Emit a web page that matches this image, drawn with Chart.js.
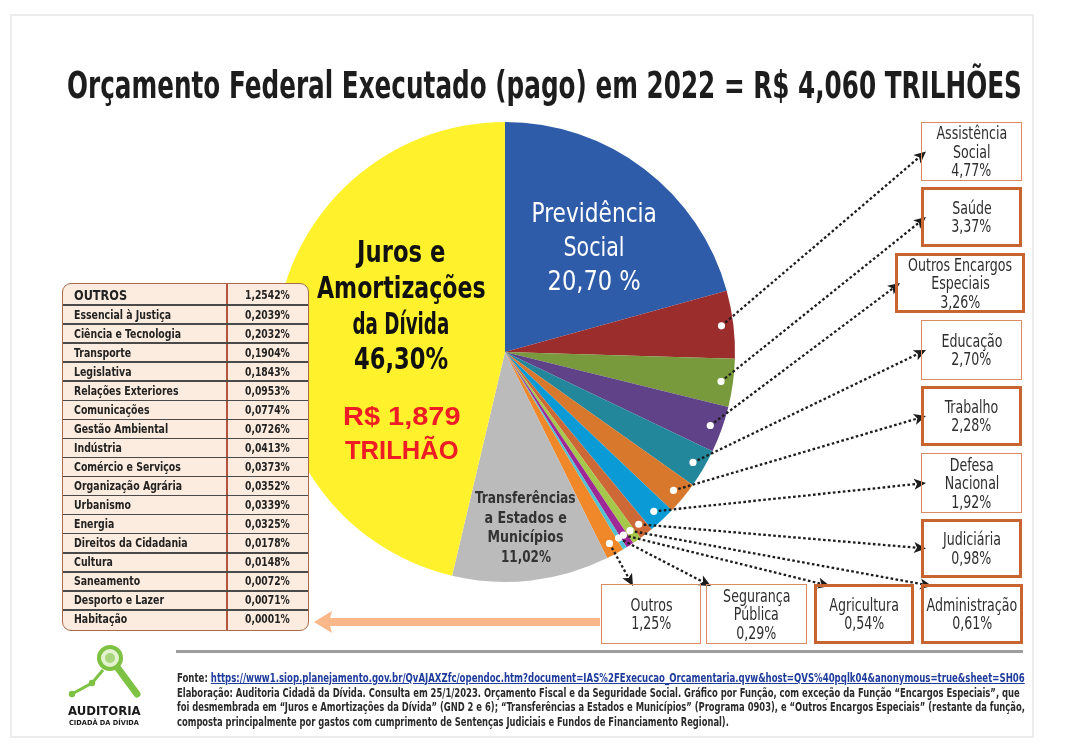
<!DOCTYPE html>
<html><head><meta charset="utf-8">
<script src="https://cdn.jsdelivr.net/npm/chart.js@4.4.1/dist/chart.umd.min.js"></script>
<style>
html,body{margin:0;padding:0;background:#fff;}
body{width:1086px;height:748px;position:relative;overflow:hidden;font-family:"Liberation Sans Narrow","DejaVu Sans Condensed","Liberation Sans",Arial,sans-serif;color:#2b2b2b;}
#chart{position:absolute;left:0;top:0;}
.t{position:absolute;white-space:nowrap;line-height:1.2;}
.box{position:absolute;box-sizing:border-box;background:transparent;}
#ov{position:absolute;left:0;top:0;width:1086px;height:748px;}
a{color:#1f3c9c;text-decoration:underline;}
</style></head><body>
<div style="position:absolute;left:10px;top:14px;width:1024px;height:724px;border:2px solid #ececec;box-sizing:border-box"></div>
<canvas id="chart" width="1086" height="748"></canvas>
<div id="ov"></div>
<script>
// ---------------- DATA ----------------
const categories = ['Previdência Social','Assistência Social','Saúde','Outros Encargos Especiais','Educação','Trabalho','Defesa Nacional','Judiciária','Administração','Agricultura','Segurança Pública','Outros','Transferências a Estados e Municípios','Juros e Amortizações da Dívida'];
const shares = [20.70, 4.77, 3.37, 3.26, 2.70, 2.28, 1.92, 0.98, 0.61, 0.54, 0.29, 1.25, 11.02, 46.30];
const sliceColors = ['#2F5CA8','#9B2D2D','#789A3C','#5F4287','#23879B','#D7782D','#0A9BD7','#CD6937','#A5C84B','#A02896','#50C3D2','#F08728','#BBBBBB','#FFF22D'];
const boxLabelLines = [null,['Assistência','Social'],['Saúde'],['Outros Encargos','Especiais'],['Educação'],['Trabalho'],['Defesa','Nacional'],['Judiciária'],['Administração'],['Agricultura'],['Segurança','Pública'],['Outros'],null,null];
const tableLabels = ['OUTROS','Essencial à Justiça','Ciência e Tecnologia','Transporte','Legislativa','Relações Exteriores','Comunicações','Gestão Ambiental','Indústria','Comércio e Serviços','Organização Agrária','Urbanismo','Energia','Direitos da Cidadania','Cultura','Saneamento','Desporto e Lazer','Habitação'];
const tableValues = [1.2542, 0.2039, 0.2032, 0.1904, 0.1843, 0.0953, 0.0774, 0.0726, 0.0413, 0.0373, 0.0352, 0.0339, 0.0325, 0.0178, 0.0148, 0.0072, 0.0071, 0.0001];
const titleText = 'Orçamento Federal Executado (pago) em 2022 = R$ 4,060 TRILHÕES';

// ---------------- LAYOUT ----------------
const boxLayout = {
  1:{x:921,y:122,w:101,h:59,thick:false},
  2:{x:921,y:187,w:101,h:60,thick:true},
  3:{x:895,y:253,w:130,h:60,thick:true},
  4:{x:921,y:320,w:101,h:60,thick:false},
  5:{x:921,y:386,w:101,h:60,thick:true},
  6:{x:921,y:453,w:101,h:60,thick:false},
  7:{x:921,y:519,w:101,h:59,thick:true},
  8:{x:921,y:584,w:102,h:60,thick:true,tip:[932,586]},
  9:{x:814,y:584,w:100,h:60,thick:true,tip:[830,586]},
  10:{x:706,y:584,w:101,h:60,thick:false,tip:[711,586]},
  11:{x:601,y:584,w:100,h:60,thick:false,tip:[633,586]}
};
const fmtPct = v => v.toFixed(2).replace('.', ',') + '%';

const ov = document.getElementById('ov');
function natW(text, size, weight, family) {
  const d = document.createElement('div');
  d.className = 't'; d.textContent = text;
  d.style.fontSize = size + 'px'; d.style.fontWeight = weight || 'normal';
  if (family) d.style.fontFamily = family;
  ov.appendChild(d); const w = d.offsetWidth; ov.removeChild(d); return w;
}
function T(html, x, y, o={}) {
  const d = document.createElement('div');
  d.className = 't';
  if (o.html) d.innerHTML = html; else d.textContent = html;
  d.style.fontSize = (o.size || 14) + 'px';
  d.style.fontWeight = o.weight || 'normal';
  d.style.color = o.color || '#2b2b2b';
  if (o.family) d.style.fontFamily = o.family;
  ov.appendChild(d);
  const nw = d.offsetWidth, nh = d.offsetHeight;
  const s = o.w ? o.w / nw : (o.scale || 1);
  d.style.top = (y - nh / 2) + 'px';
  if ((o.align || 'center') === 'center') { d.style.left = (x - nw / 2) + 'px'; d.style.transformOrigin = '50% 50%'; }
  else { d.style.left = x + 'px'; d.style.transformOrigin = '0 50%'; }
  if (s !== 1) d.style.transform = 'scaleX(' + s + ')';
  return d;
}

// ---------------- CHART ----------------
const leaderPlugin = {
  id: 'leaders',
  afterDatasetsDraw(chart) {
    const ctx = chart.ctx;
    const meta = chart.getDatasetMeta(0);
    ctx.save();
    ctx.strokeStyle = '#FAB78A'; ctx.fillStyle = '#FAB78A';
    ctx.lineWidth = 8;
    ctx.beginPath(); ctx.moveTo(600, 622); ctx.lineTo(326, 622); ctx.stroke();
    ctx.beginPath(); ctx.moveTo(314, 622); ctx.lineTo(332, 611); ctx.lineTo(329, 622); ctx.lineTo(332, 633); ctx.closePath(); ctx.fill();
    const starts = [];
    Object.keys(boxLayout).forEach(k => {
      const i = +k, b = boxLayout[k];
      const p = meta.data[i].getProps(['x','y','startAngle','endAngle','outerRadius'], true);
      const a = (p.startAngle + p.endAngle) / 2;
      const r = p.outerRadius * 0.948;
      const sx = p.x + Math.cos(a) * r, sy = p.y + Math.sin(a) * r;
      const tip = b.tip || [b.x + 5, b.y + b.h / 2];
      const dx = tip[0] - sx, dy = tip[1] - sy, L = Math.hypot(dx, dy);
      const ux = dx / L, uy = dy / L;
      ctx.strokeStyle = '#1c1c1c'; ctx.lineWidth = 2.3; ctx.setLineDash([2.6, 2.4]);
      ctx.beginPath(); ctx.moveTo(sx, sy); ctx.lineTo(tip[0] - ux * 9, tip[1] - uy * 9); ctx.stroke();
      ctx.setLineDash([]);
      ctx.fillStyle = '#1c1c1c';
      ctx.beginPath();
      ctx.moveTo(tip[0], tip[1]);
      ctx.lineTo(tip[0] - ux * 12 - uy * 5.5, tip[1] - uy * 12 + ux * 5.5);
      ctx.lineTo(tip[0] - ux * 9, tip[1] - uy * 9);
      ctx.lineTo(tip[0] - ux * 12 + uy * 5.5, tip[1] - uy * 12 - ux * 5.5);
      ctx.closePath(); ctx.fill();
      starts.push([sx, sy]);
    });
    ctx.fillStyle = '#ffffff';
    starts.forEach(s => { ctx.beginPath(); ctx.arc(s[0], s[1], 3.6, 0, Math.PI * 2); ctx.fill(); });
    ctx.restore();
  }
};

new Chart(document.getElementById('chart'), {
  type: 'pie',
  data: { labels: categories, datasets: [{ data: shares, backgroundColor: sliceColors, borderWidth: 0, hoverOffset: 0, offset: 0 }] },
  options: {
    responsive: false, animation: false, events: [],
    layout: { padding: { left: 275, right: 351, top: 122, bottom: 166 } },
    plugins: { legend: { display: false }, tooltip: { enabled: false }, title: { display: false } }
  },
  plugins: [leaderPlugin]
});

// ---------------- TEXT / OVERLAYS ----------------
T(titleText, 544.5, 86, { size: 37, weight: 'bold', color: '#1d1d1d', w: 955 });

[['Juros e',251,88],['Amortizações',287,169],['da Dívida',323,97],['46,30%',358,94]].forEach(l =>
  T(l[0], 401, l[1], { size: 31, weight: 'bold', color: '#111', w: l[2] }));
[['R$ 1,879',416,118],['TRILHÃO',450,114]].forEach(l =>
  T(l[0], 402, l[1], { size: 26, weight: 'bold', color: '#EE1C25', family: '"Liberation Sans",Arial,sans-serif', w: l[2] }));
[['Previdência',213,125],['Social',247,61],['20,70 %',281,93]].forEach(l =>
  T(l[0], 593.5, l[1], { size: 27, color: '#ffffff', w: l[2] }));
[['Transferências',497,101],['a Estados e',517,82],['Municípios',536,76],['11,02%',556,50]].forEach(l =>
  T(l[0], 525.5, l[1], { size: 16, weight: 'bold', color: '#333', w: l[2] }));

// boxes
const boxScale = 71 / natW('Assistência', 17);
Object.keys(boxLayout).forEach(k => {
  const i = +k, b = boxLayout[k];
  const d = document.createElement('div');
  d.className = 'box';
  Object.assign(d.style, { left: b.x + 'px', top: b.y + 'px', width: b.w + 'px', height: b.h + 'px',
    border: b.thick ? '3px solid #C8642F' : '1.5px solid #DB8C62' });
  ov.appendChild(d);
  const lines = boxLabelLines[i].concat([fmtPct(shares[i])]);
  const cx = b.x + b.w / 2, cy = b.y + b.h / 2;
  lines.forEach((txt, j) => T(txt, cx, cy + (j - (lines.length - 1) / 2) * 18.5, { size: 17, color: '#2e2e2e', scale: boxScale }));
});

// table of "Outros"
const tb = document.createElement('div');
Object.assign(tb.style, { position: 'absolute', left: '62px', top: '283px', width: '247px', height: '348px',
  boxSizing: 'border-box', border: '1.5px solid #A9694A', borderRadius: '9px', background: '#FCECDF' });
ov.appendChild(tb);
const colLine = document.createElement('div');
Object.assign(colLine.style, { position: 'absolute', left: '226px', top: '284px', width: '1.5px', height: '346px', background: '#B4533E' });
ov.appendChild(colLine);
const rowScale = 97 / natW('Essencial à Justiça', 13, 'bold');
const headScale = 53 / natW('OUTROS', 14.5, 'bold');
const valScale = 45 / natW('1,2542%', 13, 'bold');
tableLabels.forEach((lab, i) => {
  const top = i === 0 ? 283 : 305 + (i - 1) * 19.06;
  const h = i === 0 ? 22 : 19.06;
  if (i > 0) {
    const ln = document.createElement('div');
    Object.assign(ln.style, { position: 'absolute', left: '63px', top: (top - 0.75) + 'px', width: '245px', height: '1.5px', background: '#4a4a4a' });
    ov.appendChild(ln);
  }
  const cy = top + h / 2 + (i === 0 ? 1 : 0);
  T(lab, 74, cy, { size: i === 0 ? 14.5 : 13, weight: 'bold', color: '#222', align: 'left', scale: i === 0 ? headScale : rowScale });
  T(tableValues[i].toFixed(4).replace('.', ',') + '%', 267.5, cy, { size: 13, weight: 'bold', color: '#222', scale: valScale });
});

// footer rule and text
const rule = document.createElement('div');
Object.assign(rule.style, { position: 'absolute', left: '176px', top: '650px', width: '847px', height: '3px', background: '#9d9d9d' });
ov.appendChild(rule);
const url = 'https://www1.siop.planejamento.gov.br/QvAJAXZfc/opendoc.htm?document=IAS%2FExecucao_Orcamentaria.qvw&amp;host=QVS%40pqlk04&amp;anonymous=true&amp;sheet=SH06';
T('Fonte: <a>' + url + '</a>', 177, 678, { html: true, size: 12, weight: 'bold', color: '#2a2a2a', align: 'left', w: 848 });
T('Elaboração: Auditoria Cidadã da Dívida. Consulta em 25/1/2023. Orçamento Fiscal e da Seguridade Social. Gráfico por Função, com exceção da Função “Encargos Especiais”, que', 177, 692.5, { size: 12, weight: 'bold', color: '#2a2a2a', align: 'left', w: 843 });
T('foi desmembrada em “Juros e Amortizações da Dívida” (GND 2 e 6); “Transferências a Estados e Municípios” (Programa 0903), e “Outros Encargos Especiais” (restante da função,', 177, 707, { size: 12, weight: 'bold', color: '#2a2a2a', align: 'left', w: 848 });
T('composta principalmente por gastos com cumprimento de Sentenças Judiciais e Fundos de Financiamento Regional).', 177, 721.5, { size: 12, weight: 'bold', color: '#2a2a2a', align: 'left', w: 552 });

// logo
const svgNS = 'http://www.w3.org/2000/svg';
const logo = document.createElementNS(svgNS, 'svg');
logo.setAttribute('width', '90'); logo.setAttribute('height', '60');
logo.setAttribute('viewBox', '60 640 90 60');
logo.style.position = 'absolute'; logo.style.left = '60px'; logo.style.top = '640px';
logo.innerHTML =
  '<line x1="117" y1="667" x2="137" y2="694" stroke="#7DC242" stroke-width="7" stroke-linecap="round"/>' +
  '<polyline points="72,694 92,683 103,670" fill="none" stroke="#7DC242" stroke-width="3"/>' +
  '<circle cx="72" cy="694" r="3.2" fill="#7DC242"/><circle cx="92" cy="683" r="3.2" fill="#7DC242"/>' +
  '<circle cx="110" cy="658" r="11" fill="#E4F2D2" stroke="#7DC242" stroke-width="4"/>' +
  '<circle cx="110" cy="658" r="5" fill="#A9D67A"/>';
ov.appendChild(logo);
T('AUDITORIA', 104, 711, { size: 13, weight: 'bold', color: '#1a1a1a', family: '"DejaVu Sans",sans-serif', w: 73 });
T('CIDADÃ DA DÍVIDA', 104, 722.5, { size: 7, weight: 'bold', color: '#1a1a1a', family: '"DejaVu Sans",sans-serif', w: 70 });
</script>
</body></html>
